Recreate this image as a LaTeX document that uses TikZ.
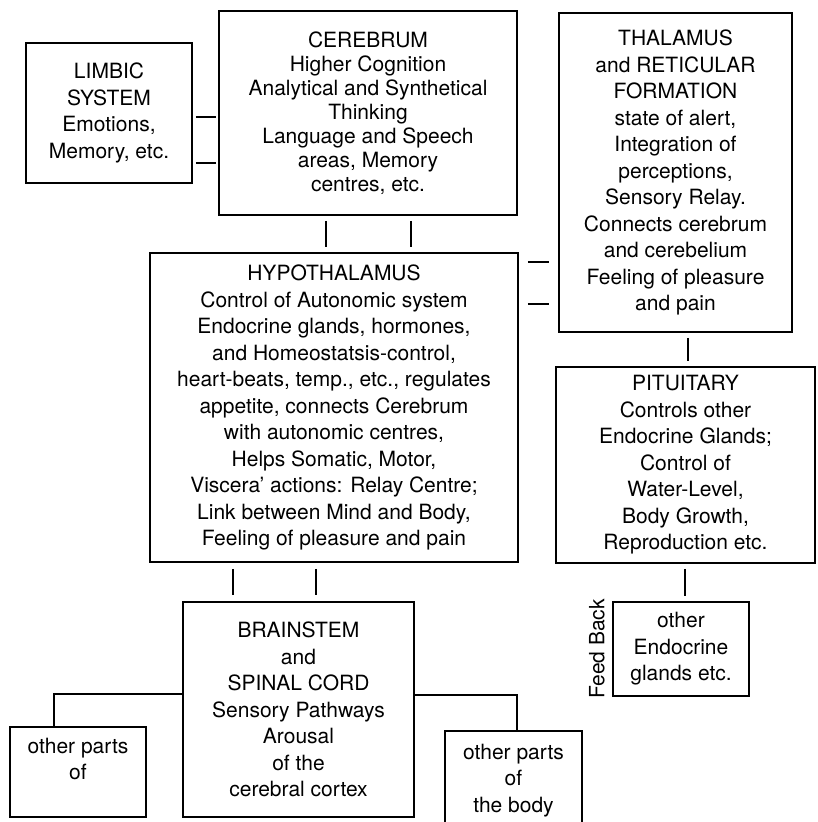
\documentclass[tikz,border=0pt]{standalone}
\usepackage{fontspec}
\setmainfont{TeX Gyre Heros}
\usepackage{tikz}
\usetikzlibrary{calc}

\begin{document}
\begin{tikzpicture}[
    x=1pt, y=-1pt,
    box/.style={draw, line width=1.5pt, align=center, inner sep=0pt, font=\fontsize{21}{26.5}\selectfont},
    densebox/.style={box, font=\fontsize{21}{24}\selectfont},
    link/.style={line width=1.5pt},
    stub/.style={link, shorten <=#1, shorten >=#1}
]
    \useasboundingbox (0,0) rectangle (817,822);

    % Top row
    \node[box, minimum width=166pt, minimum height=140pt] (limbic) at (109,113)
        {LIMBIC\\SYSTEM\\Emotions,\\Memory, etc.};
    \node[densebox, minimum width=298pt, minimum height=204pt] (cerebrum) at (368,113)
        {CEREBRUM\\Higher Cognition\\Analytical and Synthetical\\Thinking\\Language and Speech\\areas, Memory\\centres, etc.};
    \node[box, minimum width=233pt, minimum height=319pt] (thalamus) at (675.5,172.5)
        {THALAMUS\\and RETICULAR\\FORMATION\\state of alert,\\Integration of\\perceptions,\\Sensory Relay.\\Connects cerebrum\\and cerebelium\\Feeling of pleasure\\and pain};

    % Middle row
    \node[box, minimum width=368pt, minimum height=309pt] (hypo) at (334,407.5)
        {HYPOTHALAMUS\\Control of Autonomic system\\Endocrine glands, hormones,\\and Homeostatsis-control,\\heart-beats, temp., etc., regulates\\appetite, connects Cerebrum\\with autonomic centres,\\Helps Somatic, Motor,\\Viscera' actions: Relay Centre;\\Link between Mind and Body,\\Feeling of pleasure and pain};
    \node[box, minimum width=259pt, minimum height=196pt] (pituitary) at (685.5,465)
        {PITUITARY\\Controls other\\Endocrine Glands;\\Control of\\Water-Level,\\Body Growth,\\Reproduction etc.};

    % Bottom row
    \node[box, minimum width=231pt, minimum height=215pt] (brainstem) at (298.5,709.5)
        {BRAINSTEM\\and\\SPINAL CORD\\Sensory Pathways\\Arousal\\of the\\cerebral cortex};
    \node[box, minimum width=136pt, minimum height=90pt] (leftparts) at (78,772)
        {other parts\\of\\\mbox{}};
    \node[box, minimum width=137pt, minimum height=99pt] (rightparts) at (513.5,780.5)
        {other parts\\of\\the body};
    \node[box, minimum width=136pt, minimum height=94pt] (endocrine) at (681,649)
        {other\\Endocrine\\glands etc.};
    \node[rotate=90, anchor=base, font=\fontsize{21}{24}\selectfont] (feedback)
        at ([xshift=-8pt]endocrine.west) {Feed Back};

    % Links between boxes
    \draw[link, shorten <=3pt, shorten >=2pt] (limbic.east |- 0,117) -- (cerebrum.west |- 0,117);
    \draw[link, shorten <=3pt, shorten >=2pt] (limbic.east |- 0,163) -- (cerebrum.west |- 0,163);
    \foreach \x in {326,411} {
        \draw[stub=5pt] (cerebrum.south -| \x,0) -- (hypo.north -| \x,0);
    }
    \foreach \y in {262,304} {
        \draw[stub=9pt] (hypo.east |- 0,\y) -- (thalamus.west |- 0,\y);
    }
    \draw[stub=5pt] (thalamus.south -| 688,0) -- (pituitary.north -| 688,0);
    \foreach \x in {233,316} {
        \draw[stub=6pt] (hypo.south -| \x,0) -- (brainstem.north -| \x,0);
    }
    \draw[stub=5pt] (pituitary.south -| 685,0) -- (endocrine.north -| 685,0);

    % Branches to other parts
    \draw[link] (brainstem.west |- 0,694) -| (leftparts.north -| 54,0);
    \draw[link] (brainstem.east |- 0,695) -| (rightparts.north -| 517,0);

\end{tikzpicture}
\end{document}
